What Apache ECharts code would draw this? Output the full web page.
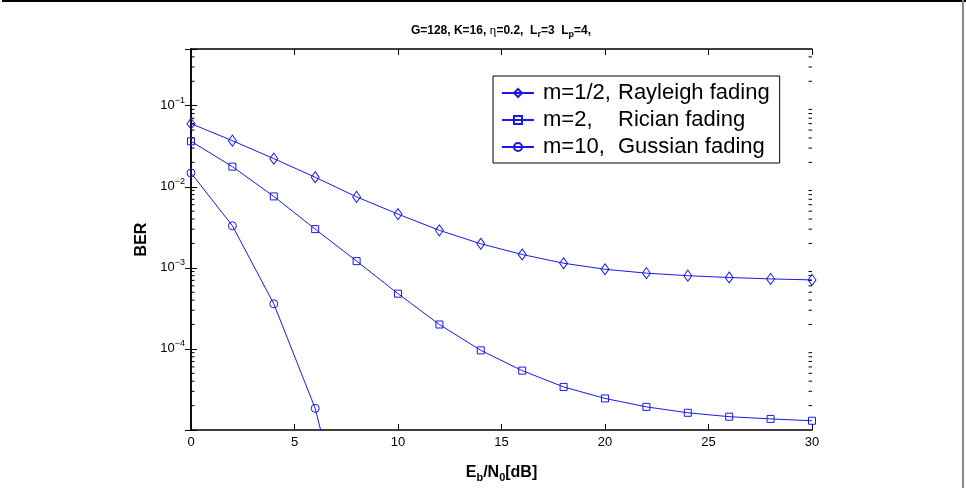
<!DOCTYPE html>
<html>
<head>
<meta charset="utf-8">
<title>BER vs Eb/N0</title>
<script src="https://cdn.jsdelivr.net/npm/echarts@6.0.0/dist/echarts.min.js"></script>
<style>
    html, body { margin: 0; padding: 0; background: #fff; }
    #chartDiv { width: 966px; height: 488px; }
</style>
</head>
<body>
<div id="chartDiv"></div>
<script>
    // Eb/N0 [dB]
    var snr = [0, 2, 4, 6, 8, 10, 12, 14, 16, 18, 20, 22, 24, 26, 28, 30];
    // BER
    var berRayleigh = [0.060, 0.0370, 0.0222, 0.0131, 0.0075, 0.0046, 0.00290, 0.00198,
        0.00146, 0.00114, 0.00096, 0.00086, 0.00080, 0.00076, 0.00073, 0.00071];
    var berRician = [0.0364, 0.0177, 0.0076, 0.00300, 0.00121, 0.00048, 0.000200, 0.000096,
        0.000054, 0.000034, 0.0000245, 0.0000193, 0.0000163, 0.0000146, 0.0000137, 0.0000130];
    var berGauss = [0.0148, 0.0033, 0.00036, 0.0000185, 0.00000017];
    var legendHead = ['m=1/2,', 'm=2,', 'm=10,'];
    var legendTail = ['Rayleigh fading', 'Rician fading', 'Gussian fading'];
    var symbols = ['diamond', 'rect', 'circle'];
    var symbolSizes = [[8, 11], 7, 8];

    var FONT = '"Liberation Sans", Arial, Helvetica, sans-serif';
    var BLUE = '#1a1ae6';

    // minor ticks of the log axis: 2..9 x 10^e
    var minorTicks = [];
    for (var e = -5; e <= -1; e++) {
        for (var k = 2; k <= 9; k++) {
            var v = k * Math.pow(10, e);
            if (v < 0.5) minorTicks.push([0, v]);
        }
    }

    function pairs(arr) {
        return arr.map(function (y, i) { return [snr[i], y]; });
    }

    // 10^-1 .. 10^-4 only (the bottom one is not labelled in the original)
    function powLabel(v) {
        var lg = Math.log10(v);
        var e = Math.round(lg);
        if (Math.abs(lg - e) > 1e-6 || e < -4) return '';
        return '{b|10}{s|\u2212' + (-e) + '}';
    }

    var names = legendHead.map(function (h, i) { return h + ' ' + legendTail[i]; });
    var curves = [berRayleigh, berRician, berGauss];

    var series = curves.map(function (arr, i) {
        return {
            name: names[i],
            type: 'line',
            data: pairs(arr),
            symbol: symbols[i],
            symbolSize: symbolSizes[i],
            showAllSymbol: true,
            clip: true,
            lineStyle: { color: BLUE, width: 1 },
            itemStyle: { color: 'rgba(0,0,0,0)', borderColor: BLUE, borderWidth: 1 },
            emphasis: { disabled: true },
            z: 3
        };
    });

    series.push({
        type: 'custom',
        silent: true,
        data: minorTicks,
        z: 2,
        renderItem: function (params, api) {
            var y = api.coord([0, api.value(1)])[1];
            var cs = params.coordSys;
            var st = { stroke: '#000', lineWidth: 1 };
            return {
                type: 'group',
                children: [
                    { type: 'line', shape: { x1: cs.x, y1: y, x2: cs.x + 3.5, y2: y }, style: st },
                    { type: 'line', shape: { x1: cs.x + cs.width - 3.5, y1: y, x2: cs.x + cs.width, y2: y }, style: st }
                ]
            };
        }
    });

    var axisLine = { show: true, lineStyle: { color: '#000', width: 1.5 } };
    var tick = { show: true, inside: true, length: 6, lineStyle: { color: '#000', width: 1 } };

    var option = {
        animation: false,
        backgroundColor: '#fff',
        textStyle: { fontFamily: FONT },
        grid: { left: 191, right: 154, top: 49, bottom: 41 },
        legend: {
            data: names,
            orient: 'vertical',
            left: 493,
            top: 76,
            padding: [6, 10, 5, 8],
            itemWidth: 32,
            itemHeight: 10,
            itemGap: 5,
            backgroundColor: '#fff',
            borderColor: '#000',
            borderWidth: 1,
            selectedMode: false,
            textStyle: {
                fontFamily: FONT, fontSize: 22, lineHeight: 22, color: '#000',
                rich: {
                    a: { fontFamily: FONT, fontSize: 22, width: 75, padding: [0, 0, 0, 4] },
                    b: { fontFamily: FONT, fontSize: 22 }
                }
            },
            formatter: function (name) {
                var i = name.indexOf(' ');
                return '{a|' + name.slice(0, i) + '}{b|' + name.slice(i + 1) + '}';
            }
        },
        xAxis: [{
            type: 'value', min: 0, max: 30, interval: 5, position: 'bottom',
            axisLine: axisLine, axisTick: tick, splitLine: { show: false },
            axisLabel: { color: '#000', fontSize: 13, margin: 6, fontFamily: FONT },
            name: '{n|E}{s|b}{n|/N}{s|0}{n|[dB]}',
            nameLocation: 'middle',
            nameGap: 33,
            nameTextStyle: {
                rich: {
                    n: { fontFamily: FONT, fontSize: 16, fontWeight: 'bold', color: '#000' },
                    s: { fontFamily: FONT, fontSize: 11, fontWeight: 'bold', color: '#000', padding: [9, 0, 0, 0] }
                }
            }
        }, {
            type: 'value', min: 0, max: 30, interval: 5, position: 'top',
            axisLine: axisLine, axisTick: tick, splitLine: { show: false },
            axisLabel: { show: false }
        }],
        yAxis: [{
            type: 'log', logBase: 10, min: 0.00001, max: 0.5, position: 'left',
            axisLine: axisLine, axisTick: tick, splitLine: { show: false }, minorTick: { show: false },
            axisLabel: {
                color: '#000', margin: 6, formatter: powLabel,
                rich: {
                    b: { fontFamily: FONT, fontSize: 13, color: '#000' },
                    s: { fontFamily: FONT, fontSize: 9, color: '#000', padding: [0, 0, 10, 0] }
                }
            },
            name: 'BER',
            nameLocation: 'middle',
            nameRotate: 90,
            nameGap: 32,
            nameTextStyle: { fontFamily: FONT, fontSize: 16, fontWeight: 'bold', color: '#000' }
        }, {
            type: 'log', logBase: 10, min: 0.00001, max: 0.5, position: 'right',
            axisLine: axisLine, axisTick: tick, splitLine: { show: false },
            axisLabel: { show: false }
        }],
        graphic: [{
            type: 'text',
            x: 501,
            y: 31,
            style: {
                text: '{n|G=128, K=16, }{g|\u03b7}{n|=0.2,  L}{s|r}{n|=3  L}{s|p}{n|=4,}',
                align: 'center',
                verticalAlign: 'middle',
                rich: {
                    n: { fontFamily: FONT, fontSize: 12, fontWeight: 'bold', fill: '#000' },
                    g: { fontFamily: '"Liberation Serif", serif', fontSize: 13, fill: '#000' },
                    s: { fontFamily: FONT, fontSize: 9, fontWeight: 'bold', fill: '#000', padding: [7, 0, 0, 0] }
                }
            }
        }, {
            type: 'line', shape: { x1: 2, y1: 1, x2: 966, y2: 1 },
            style: { stroke: '#000', lineWidth: 2 }
        }, {
            type: 'line', shape: { x1: 963, y1: 0, x2: 963, y2: 488 },
            style: { stroke: '#8a8a8a', lineWidth: 2 }
        }],
        series: series
    };

    var chart = echarts.init(document.getElementById('chartDiv'));
    chart.setOption(option);
</script>
</body>
</html>
